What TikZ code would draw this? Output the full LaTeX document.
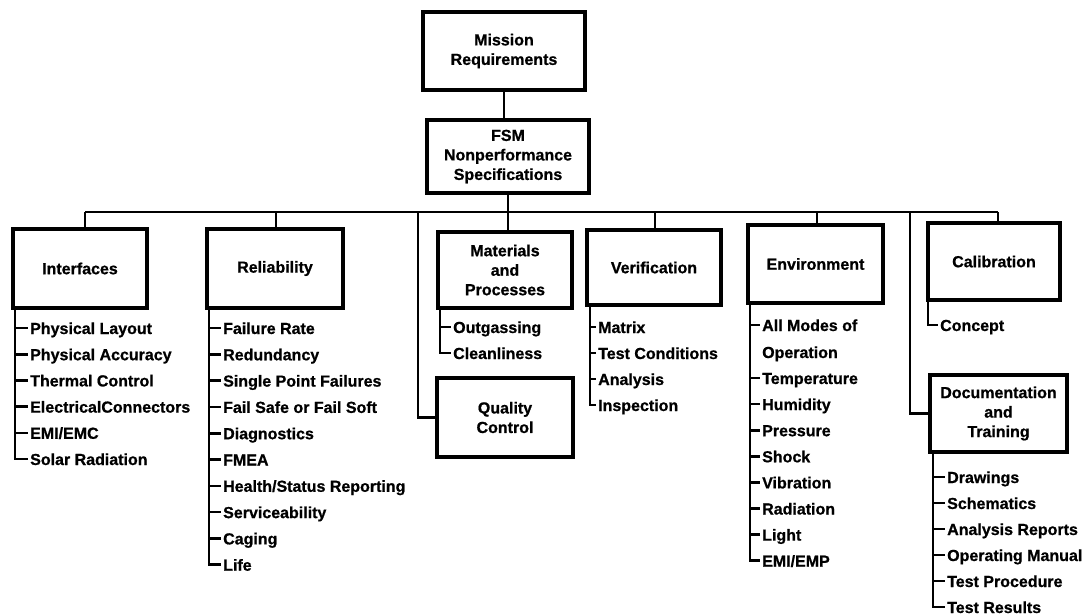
\documentclass[tikz,border=0pt]{standalone}
\usepackage{fontspec}
\setmainfont{Liberation Sans}[BoldFeatures={FakeBold=0.8}]
\begin{document}
\begin{tikzpicture}[x=1pt,y=-1pt,
 lab/.style={font=\bfseries\fontsize{16}{19.5}\selectfont},
 box/.style={lab, draw, line width=3.6pt, align=center, inner sep=0pt},
 conn/.style={line width=2.6pt},
 item/.style={lab, anchor=west, inner xsep=2pt, inner ysep=0pt, text height=12pt, text depth=0pt}]
\useasboundingbox (0,0) rectangle (1087,615);

% boxes
\node[box, minimum width=162pt, minimum height=78pt] (mission) at (504,51) {Mission\\Requirements};
\node[box, minimum width=162pt, minimum height=73pt] (fsm) at (508,156.5) {FSM\\Nonperformance\\Specifications};
\node[box, minimum width=134pt, minimum height=79pt] (inter) at (80,268.5) {Interfaces};
\node[box, minimum width=136pt, minimum height=79pt] (rel) at (275,268.5) {Reliability};
\node[box, minimum width=134pt, minimum height=76pt] (mat) at (505,270) {Materials\\and\\Processes};
\node[box, minimum width=136pt, minimum height=79pt] (qc) at (505,417.5) {Quality\\Control};
\node[box, minimum width=134pt, minimum height=75pt] (ver) at (654,267.5) {Verification};
\node[box, minimum width=135pt, minimum height=78pt] (env) at (815.5,264) {Environment};
\node[box, minimum width=132pt, minimum height=77pt] (cal) at (994,261.5) {Calibration};
\node[box, minimum width=137pt, minimum height=77pt] (doc) at (998.5,413.5) {Documentation\\and\\Training};

% bus
\coordinate (busL) at (85,212);
\coordinate (busR) at (998,212);
\coordinate (bRel) at (276,212);
\coordinate (bQC) at (418,212);
\coordinate (bVer) at (655,212);
\coordinate (bEnv) at (817,212);
\coordinate (bDoc) at (910,212);

\draw[conn] (mission) -- (mission.south |- fsm.north);
\draw[conn] (busL) -- (busR);
\draw[conn] (fsm.south) -- (fsm.south |- mat.north);
\draw[conn] (busL) -- (busL |- inter.north);
\draw[conn] (bRel) -- (bRel |- rel.north);
\draw[conn] (bVer) -- (bVer |- ver.north);
\draw[conn] (bEnv) -- (bEnv |- env.north);
\draw[conn] (busR) -- (busR |- cal.north);
\draw[conn] (bQC) |- (qc.west);
\draw[conn] (bDoc) |- (doc.west);

% Interfaces items
\coordinate (iT) at (15,308);
\foreach \t [count=\i] in {Physical Layout,Physical Accuracy,Thermal Control,ElectricalConnectors,EMI/EMC,Solar Radiation}
  \node[item] (int\i) at (28,{328+(\i-1)*26.2}) {\t};
\draw[conn] (iT) |- (int6.west);
\foreach \i in {1,...,5} \draw[conn] (int\i.west -| iT) -- (int\i.west);

% Reliability items
\coordinate (rT) at (209,308);
\foreach \t [count=\i] in {Failure Rate,Redundancy,Single Point Failures,Fail Safe or Fail Soft,Diagnostics,FMEA,Health/Status Reporting,Serviceability,Caging,Life}
  \node[item] (rel\i) at (221,{328+(\i-1)*26.3}) {\t};
\draw[conn] (rT) |- (rel10.west);
\foreach \i in {1,...,9} \draw[conn] (rel\i.west -| rT) -- (rel\i.west);

% Materials items
\coordinate (mT) at (440,308);
\node[item] (mat1) at (451,327) {Outgassing};
\node[item] (mat2) at (451,353) {Cleanliness};
\draw[conn] (mT) |- (mat2.west);
\draw[conn] (mat1.west -| mT) -- (mat1.west);

% Verification items
\coordinate (vT) at (590,305);
\foreach \t [count=\i] in {Matrix,Test Conditions,Analysis,Inspection}
  \node[item] (ver\i) at (596,{327+(\i-1)*26}) {\t};
\draw[conn] (vT) |- (ver4.west);
\foreach \i in {1,...,3} \draw[conn] (ver\i.west -| vT) -- (ver\i.west);

% Environment items
\coordinate (eT) at (750,303);
\node[item] (envA) at (760,325) {All Modes of};
\node[item] (envB) at (760,352) {Operation};
\foreach \t [count=\i] in {Temperature,Humidity,Pressure,Shock,Vibration,Radiation,Light,EMI/EMP}
  \node[item] (env\i) at (760,{378+(\i-1)*26.1}) {\t};
\draw[conn] (eT) |- (env8.west);
\draw[conn] (envA.west -| eT) -- (envA.west);
\foreach \i in {1,...,7} \draw[conn] (env\i.west -| eT) -- (env\i.west);

% Calibration item
\coordinate (cT) at (928,300);
\node[item] (cal1) at (938,325) {Concept};
\draw[conn] (cT) |- (cal1.west);

% Documentation items
\coordinate (dT) at (933,452);
\foreach \t [count=\i] in {Drawings,Schematics,Analysis Reports,Operating Manual,Test Procedure,Test Results}
  \node[item] (doc\i) at (945,{477+(\i-1)*26}) {\t};
\draw[conn] (dT) |- (doc6.west);
\foreach \i in {1,...,5} \draw[conn] (doc\i.west -| dT) -- (doc\i.west);
\end{tikzpicture}
\end{document}
